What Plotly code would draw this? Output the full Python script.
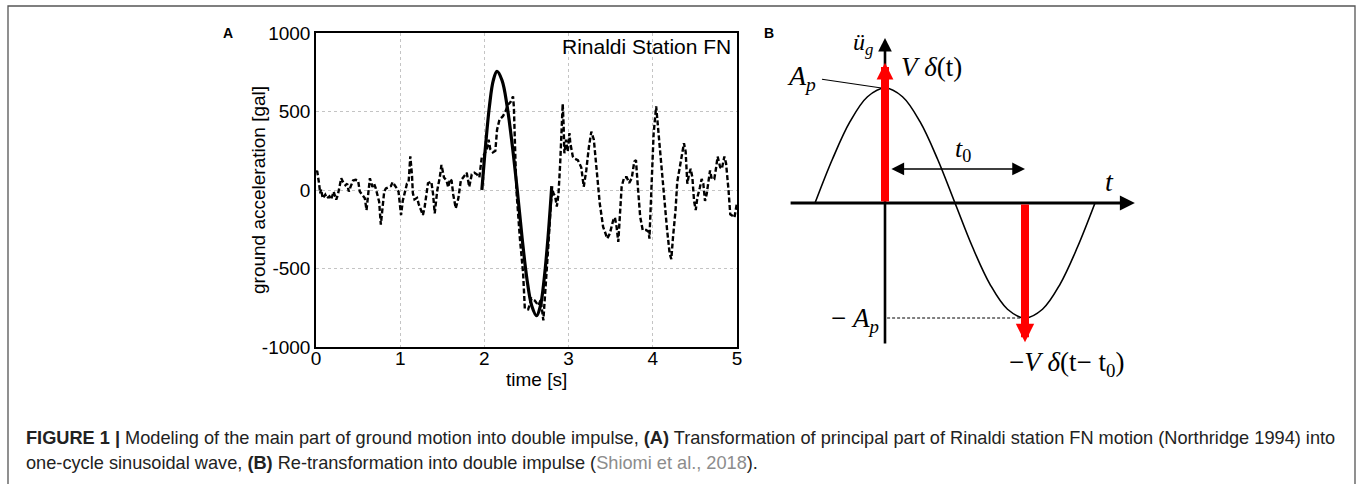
import plotly.graph_objects as go

W, H = 1360, 484

# ---------------- Panel A data ----------------
dash_t = [0.00, 0.015, 0.036, 0.05, 0.06, 0.08, 0.11, 0.13, 0.16, 0.18, 0.21, 0.24, 0.26,
          0.30, 0.32, 0.35, 0.37, 0.39, 0.41, 0.44, 0.47, 0.50, 0.52, 0.55, 0.58, 0.60,
          0.64, 0.67, 0.69, 0.71, 0.73, 0.75, 0.77, 0.79, 0.81, 0.83, 0.86, 0.89, 0.91,
          0.94, 0.96, 0.98, 1.01, 1.03, 1.06, 1.08, 1.10, 1.12, 1.14, 1.15, 1.17, 1.20,
          1.22, 1.25, 1.27, 1.29, 1.31, 1.33, 1.37, 1.39, 1.41, 1.44, 1.47, 1.49, 1.52,
          1.55, 1.57, 1.59, 1.61, 1.63, 1.66, 1.69, 1.72, 1.75, 1.79, 1.82, 1.85, 1.88,
          1.91, 1.94, 1.97, 1.99, 2.03, 2.05, 2.07, 2.10, 2.13, 2.15, 2.18, 2.22, 2.25,
          2.28, 2.31, 2.34, 2.35, 2.37, 2.38, 2.42, 2.46, 2.48, 2.52, 2.56, 2.60, 2.64,
          2.67, 2.70, 2.72, 2.76, 2.79, 2.81, 2.82, 2.84, 2.86, 2.88, 2.90, 2.92, 2.93,
          2.94, 2.95, 2.97, 2.99, 3.01, 3.02, 3.05, 3.07, 3.11, 3.15, 3.18, 3.21, 3.24,
          3.27, 3.30, 3.33, 3.37, 3.41, 3.46, 3.49, 3.53, 3.55, 3.57, 3.59, 3.61, 3.63,
          3.66, 3.69, 3.72, 3.75, 3.78, 3.80, 3.82, 3.85, 3.88, 3.92, 3.95, 3.96, 3.97,
          3.99, 4.01, 4.04, 4.05, 4.07, 4.10, 4.14, 4.17, 4.20, 4.22, 4.24, 4.27, 4.29,
          4.32, 4.35, 4.37, 4.39, 4.41, 4.43, 4.45, 4.47, 4.49, 4.51, 4.53, 4.56, 4.58,
          4.60, 4.62, 4.64, 4.66, 4.68, 4.70, 4.73, 4.75, 4.77, 4.80, 4.82, 4.85, 4.87,
          4.90, 4.92, 4.95, 4.97, 5.00]
dash_v = [120, 117, 43, -21, 4, -53, -30, -53, -40, -60, -10, -62, -30,
          75, 53, 30, 40, -10, 20, 60, 65, 60, -10, -30, -53, -128,
          75, 20, 40, 10, -30, -75, -220, -130, -10, 10, 20, 25, 50,
          30, 10, -10, -160, -70, -10, 40, 50, 215, 95, -20, -60, -50,
          -90, -140, -160, -110, -43, 43, 53, -25, -149, -3, 80, 160, 80,
          60, 17, 70, 60, -30, -117, -55, 60, 80, 110, 20, 100, 110,
          100, 80, 213, 220, 260, 320, 260, 240, 250, 383, 450, 470, 500,
          543, 560, 596, 530, 170, 0, -298, -532, -755, -760, -692, -705, -735,
          -700, -830, -680, -350, -80, 0, -21, -40, -106, -25, 170, 425, 549,
          425, 234, 320, 245, 362, 300, 213, 200, 190, 145, 21, 125, 270,
          372, 320, 125, -85, -235, -309, -277, -192, -175, -235, -330, -170, 21,
          81, 81, 45, 75, 181, 190, 40, -170, -255, -255, -265, -310, -175,
          80, 362, 532, 470, 320, 149, -85, -255, -404, -440, -300, -130, 50,
          135, 230, 298, 245, 40, 100, 135, 80, -70, -128, -45, 17, 70,
          40, -70, -25, 60, 125, 70, 70, 135, 213, 145, 135, 213, 170,
          -5, -155, -165, -175, -80]

sine_t = [1.970, 2.015, 2.060, 2.105, 2.150, 2.210, 2.270, 2.330, 2.390,
          2.448, 2.505, 2.563, 2.620, 2.665, 2.710, 2.755, 2.800]
sine_v = [0, 289, 534, 697, 755, 697, 534, 289, 0,
          -306, -566, -739, -800, -739, -566, -306, 25]

x_ticks = [0, 1, 2, 3, 4, 5]
y_ticks = [-1000, -500, 0, 500, 1000]
y_tick_text = ["-1000", "-500", "0", "500", "1000"]

# ---------------- Panel B schematic values ----------------
b_t = [-1.0, -0.75, -0.5, -0.25, 0.0, 0.25, 0.5, 0.75, 1.0,
       1.25, 1.5, 1.75, 2.0, 2.25, 2.5, 2.75, 3.0]
b_v = [0.0, 0.383, 0.707, 0.924, 1.0, 0.924, 0.707, 0.383, 0.0,
       -0.383, -0.707, -0.924, -1.0, -0.924, -0.707, -0.383, 0.0]
Ap = 1.0
t0 = 2.0
imp_up = 1.22      # tip of V delta(t)
imp_dn = -1.21     # tip of -V delta(t - t0)
t_axis = (-1.37, 3.57)
u_axis = (-1.235, 1.435)
t0_arrow_y = 0.296
t0_arrow_x = (0.07, 2.0)

A_dom_x = [316 / W, 737 / W]
A_dom_y = [1 - 347 / H, 1 - 33 / H]
B_dom_x = [760 / W, 1160 / W]
B_dom_y = [1 - 380 / H, 1 - 20 / H]
B_xr = [(760 - 885) / 70, (1160 - 885) / 70]
B_yr = [(203 - 380) / 115, (203 - 20) / 115]

fig = go.Figure()

fig.add_trace(go.Scatter(x=dash_t, y=dash_v, mode="lines",
                         line=dict(color="black", width=2.4, dash="5px,2.5px"),
                         xaxis="x", yaxis="y", showlegend=False, hoverinfo="skip"))
fig.add_trace(go.Scatter(x=sine_t, y=sine_v, mode="lines",
                         line=dict(color="black", width=3.2, shape="spline"),
                         xaxis="x", yaxis="y", showlegend=False, hoverinfo="skip"))

# Panel B curve
fig.add_trace(go.Scatter(x=b_t, y=b_v, mode="lines",
                         line=dict(color="black", width=1.6, shape="spline"),
                         xaxis="x2", yaxis="y2", showlegend=False, hoverinfo="skip"))
# dashed -Ap guide
fig.add_trace(go.Scatter(x=[0.03, t0], y=[-Ap, -Ap], mode="lines",
                         line=dict(color="black", width=1, dash="3px,2px"),
                         xaxis="x2", yaxis="y2", showlegend=False, hoverinfo="skip"))
# Ap leader line
fig.add_trace(go.Scatter(x=[-0.9, -0.05], y=[1.076, Ap], mode="lines",
                         line=dict(color="black", width=1.2),
                         xaxis="x2", yaxis="y2", showlegend=False, hoverinfo="skip"))

annotations = []

def arrow(x0, y0, x1, y1, width, size, color, head=2, side="end"):
    annotations.append(dict(x=x1, y=y1, ax=x0, ay=y0, xref="x2", yref="y2",
                            axref="x2", ayref="y2", text="", showarrow=True,
                            arrowhead=head, arrowsize=size, arrowwidth=width,
                            arrowcolor=color, arrowside=side, standoff=0, startstandoff=0))

# axes of schematic
arrow(t_axis[0], 0, t_axis[1], 0, 3, 1.0, "black")
arrow(0, u_axis[0], 0, u_axis[1], 2.6, 1.05, "black")
# impulses
arrow(0, 0, 0, imp_up, 8, 0.42, "#ff0000")
arrow(t0, 0, t0, imp_dn, 8, 0.46, "#ff0000")
# t0 double arrow
arrow(t0_arrow_x[0], t0_arrow_y, t0_arrow_x[1], t0_arrow_y, 1.5, 1.7, "black", side="end+start")

serif = "Liberation Serif"
def btext(x, y, s, size, xa="center", ya="middle"):
    annotations.append(dict(x=x, y=y, xref="x2", yref="y2", text=s, showarrow=False,
                            xanchor=xa, yanchor=ya,
                            font=dict(family=serif, size=size, color="black")))

btext(-0.31, 1.38, "<i>ü</i><sub><i>g</i></sub>", 24)
btext(0.667, 1.18, "<i>V</i> <i>δ</i>(t)", 27)
btext(-1.2, 1.09, "<i>A</i><sub><i>p</i></sub>", 28)
btext(1.114, 0.46, "<i>t</i><sub>0</sub>", 26)
btext(3.2, 0.19, "<i>t</i>", 28)
btext(-0.06, -1.02, "− <i>A</i><sub><i>p</i></sub>", 27, xa="right")
btext(2.586, -1.40, "−<i>V</i> <i>δ</i>(t− t<sub>0</sub>)", 27)

sans = "Liberation Sans"

def ptext(xp, yp, s, size, xa="center", ya="middle", angle=0, color="black"):
    annotations.append(dict(x=xp / W, y=1 - yp / H, xref="paper", yref="paper", text=s,
                            showarrow=False, xanchor=xa, yanchor=ya, textangle=angle,
                            font=dict(family=sans, size=size, color=color)))

# panel labels
ptext(228, 33, "<b>A</b>", 14)
ptext(769, 33, "<b>B</b>", 14)
# panel A texts
ptext(733, 47, "Rinaldi Station FN", 21, xa="right")
ptext(536, 379, "time [s]", 19)
ptext(258, 190, "ground acceleration [gal]", 19, angle=-90)

# caption
cap1 = ("<b>FIGURE 1 |</b> Modeling of the main part of ground motion into double impulse, "
        "<b>(A)</b> Transformation of principal part of Rinaldi station FN motion "
        "(Northridge 1994) into")
cap2 = ("one-cycle sinusoidal wave, <b>(B)</b> Re-transformation into double impulse "
        "(<span style='color:#8c8c8c'>Shiomi et al., 2018</span>).")
ptext(24, 438, cap1, 18.2, xa="left", color="#222222")
ptext(24, 463, cap2, 18.2, xa="left", color="#222222")

shapes = [dict(type="rect", xref="paper", yref="paper", x0=8 / W, x1=1355 / W,
               y0=-0.1, y1=1 - 6 / H, line=dict(color="#555555", width=1.3), layer="below")]

fig.update_layout(
    width=W, height=H, margin=dict(l=0, r=0, t=0, b=0),
    paper_bgcolor="white", plot_bgcolor="white",
    showlegend=False,
    xaxis=dict(domain=A_dom_x, range=[0, 5], tickvals=x_ticks, ticks="",
               showline=True, linecolor="black", linewidth=1.5, mirror=True,
               showgrid=True, gridcolor="#c4c4c4", griddash="dot", gridwidth=1,
               zeroline=False, tickfont=dict(family=sans, size=19, color="black"),
               ticklabelstandoff=-7, anchor="y", automargin=False),
    yaxis=dict(domain=A_dom_y, range=[-1000, 1000], tickvals=y_ticks, ticktext=y_tick_text,
               ticks="",
               showline=True, linecolor="black", linewidth=1.5, mirror=True,
               showgrid=True, gridcolor="#c4c4c4", griddash="dot", gridwidth=1,
               zeroline=False, tickfont=dict(family=sans, size=19, color="black"),
               anchor="x", automargin=False),
    xaxis2=dict(domain=B_dom_x, range=B_xr, visible=False, anchor="y2"),
    yaxis2=dict(domain=B_dom_y, range=B_yr, visible=False, anchor="x2"),
    annotations=annotations, shapes=shapes,
)

fig.write_html("out.html")
